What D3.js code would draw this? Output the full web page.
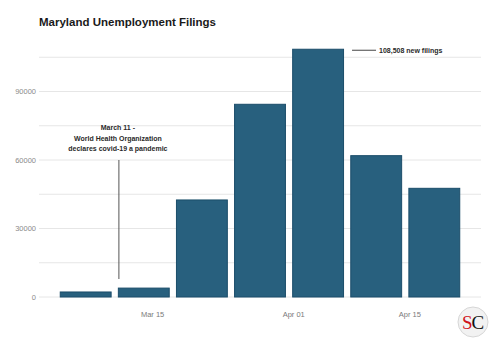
<!DOCTYPE html>
<html>
<head>
<meta charset="utf-8">
<script src="https://cdn.jsdelivr.net/npm/d3@7"></script>
<style>
  html, body { margin: 0; padding: 0; background: #fff; }
  svg { display: block; font-family: "Liberation Sans", Arial, sans-serif; }
</style>
</head>
<body>
<svg id="chart" width="500" height="347"></svg>
<script>
// Weekly new unemployment filings in Maryland, by week-ending date
const weekEnding = ["2020-03-07", "2020-03-14", "2020-03-21", "2020-03-28", "2020-04-04", "2020-04-11", "2020-04-18"];
const filings = [2200, 3900, 42500, 84400, 108508, 61900, 47600];
const yTicks = [0, 30000, 60000, 90000];
const yGrid = [0, 15000, 30000, 45000, 60000, 75000, 90000, 105000];
const xTickDates = ["2020-03-15", "2020-04-01", "2020-04-15"];
const pandemicDate = "2020-03-11";
const pandemicNote = ["March 11 -", "World Health Organization", "declares covid-19 a pandemic"];
const peakNote = "108,508 new filings";

const parse = d3.timeParse("%Y-%m-%d");
const data = weekEnding.map((d, i) => ({ date: parse(d), value: filings[i] }));

const svg = d3.select("#chart");
const plotLeft = 39, plotRight = 481, plotBottom = 297;

const x = d3.scaleTime()
  .domain([new Date(2020, 2, 1, 9), new Date(2020, 3, 23, 15)])
  .range([plotLeft, plotRight]);
const y = d3.scaleLinear().domain([0, 120000]).range([plotBottom, plotBottom - 120000 * 68.5 / 30000]);

const dayPx = x(new Date(2020, 2, 2)) - x(new Date(2020, 2, 1));
const barW = dayPx * 6.25;

// Title
svg.append("text")
  .attr("x", plotLeft).attr("y", 26)
  .attr("font-size", 11.5).attr("font-weight", "bold").attr("fill", "#1a1a1a")
  .text("Maryland Unemployment Filings");

// Horizontal grid
svg.append("g").selectAll("line").data(yGrid).join("line")
  .attr("x1", plotLeft).attr("x2", plotRight)
  .attr("y1", d => y(d)).attr("y2", d => y(d))
  .attr("stroke", "#e6e6e6").attr("stroke-width", 1);

// Y axis labels
const yAxis = d3.axisLeft(y).tickValues(yTicks).tickSize(0).tickPadding(3).tickFormat(d3.format("d"));
svg.append("g").attr("transform", `translate(${plotLeft},0)`).call(yAxis)
  .call(g => g.select(".domain").remove())
  .selectAll("text").attr("font-size", 7.5).attr("fill", "#8a8a8a")
  .attr("font-family", "\"Liberation Sans\", Arial, sans-serif");

// X axis labels
const xAxis = d3.axisBottom(x).tickValues(xTickDates.map(parse)).tickSize(0).tickPadding(15)
  .tickFormat(d3.timeFormat("%b %d"));
svg.append("g").attr("transform", `translate(0,${plotBottom})`).call(xAxis)
  .call(g => g.select(".domain").remove())
  .selectAll("text").attr("font-size", 7.5).attr("fill", "#7a7a7a")
  .attr("font-family", "\"Liberation Sans\", Arial, sans-serif");

// Bars
svg.append("g").selectAll("rect").data(data).join("rect")
  .attr("x", d => x(d.date) - barW / 2 + 0.5)
  .attr("width", barW - 1)
  .attr("y", d => y(d.value))
  .attr("height", d => y(0) - y(d.value))
  .attr("fill", "#28607e")
  .attr("stroke", "#1b4d6a").attr("stroke-width", 1);

// Pandemic annotation
const px = x(parse(pandemicDate));
svg.append("line")
  .attr("x1", px).attr("x2", px).attr("y1", 160).attr("y2", 279)
  .attr("stroke", "#555").attr("stroke-width", 1);
svg.append("g").selectAll("text").data(pandemicNote).join("text")
  .attr("x", px - 1).attr("y", (d, i) => 130 + i * 10.5)
  .attr("text-anchor", "middle").attr("font-size", 7).attr("font-weight", "bold")
  .attr("fill", "#2a2a2a")
  .text(d => d);

// Peak annotation
const peak = data[4];
const peakEnd = x(peak.date) + barW / 2;
svg.append("line")
  .attr("x1", peakEnd + 8).attr("x2", peakEnd + 32)
  .attr("y1", y(peak.value) + 1).attr("y2", y(peak.value) + 1)
  .attr("stroke", "#444").attr("stroke-width", 1);
svg.append("text")
  .attr("x", peakEnd + 35).attr("y", y(peak.value) + 3.5)
  .attr("font-size", 7).attr("font-weight", "bold").attr("fill", "#2a2a2a")
  .text(peakNote);

// Logo
const logo = svg.append("g").attr("transform", "translate(473,322)");
logo.append("circle").attr("r", 15).attr("fill", "#f2f2f2").attr("stroke", "#d6d6d6").attr("stroke-width", 1);
const lt = logo.append("text").attr("y", 6.5).attr("text-anchor", "middle")
  .attr("font-family", "\"Liberation Serif\", \"DejaVu Serif\", serif").attr("font-size", 19);
lt.append("tspan").attr("fill", "#d0121b").text("S");
lt.append("tspan").attr("fill", "#111").attr("dx", -1).text("C");
</script>
</body>
</html>
